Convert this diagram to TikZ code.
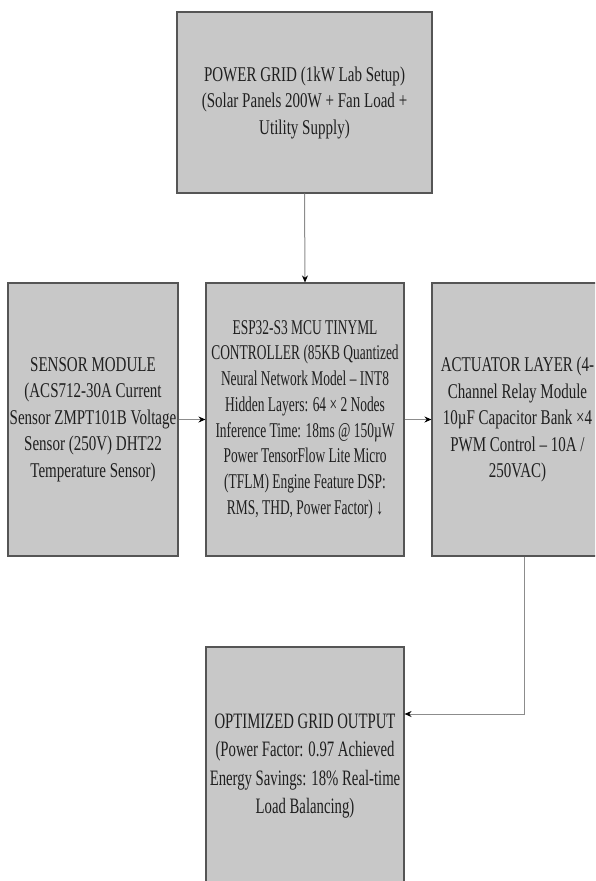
\documentclass[tikz,border=0pt]{standalone}
\usepackage{fontspec}
\setmainfont{Liberation Serif}[FakeStretch=0.715]
\newfontfamily\narrowfont{Liberation Serif}[FakeStretch=0.64]
\newfontfamily\outfont{Liberation Serif}[FakeStretch=0.67]
\usetikzlibrary{arrows.meta,calc}
\definecolor{boxfill}{HTML}{C8C8C8}
\definecolor{boxline}{HTML}{555555}
\definecolor{conn}{HTML}{8C8C8C}
\tikzset{
  block/.style={draw=boxline, line width=1.1pt, fill=boxfill, align=center,
    inner sep=0pt, font=\fontsize{21}{26.5}\selectfont, text=black!88},
  conn/.style={draw=conn, line width=1pt,
    -{Stealth[length=7pt,width=6pt,color=black]}}
}
\begin{document}
\begin{tikzpicture}[x=1pt,y=-1pt]
\useasboundingbox (0,0) rectangle (595,881);
\clip (0,0) rectangle (595,881);
\fill[white] (0,0) rectangle (595,881);

\node[block, minimum width=255pt, minimum height=181pt] (grid) at (304.5,102.5)
  {POWER GRID (1kW Lab Setup)\\(Solar Panels 200W + Fan Load +\\Utility Supply)};

\node[block, minimum width=170pt, minimum height=273pt] (sensor) at (93,419.5)
  {SENSOR MODULE\\(ACS712-30A Current\\Sensor ZMPT101B Voltage\\Sensor (250V) DHT22\\Temperature Sensor)};

\node[block, minimum width=198pt, minimum height=273pt, font=\fontsize{21}{25.7}\selectfont\narrowfont] (esp) at (305,419.5)
  {ESP32-S3 MCU TINYML\\CONTROLLER (85KB Quantized\\Neural Network Model – INT8\\Hidden Layers: 64 × 2 Nodes\\Inference Time: 18ms @ 150µW\\Power TensorFlow Lite Micro\\(TFLM) Engine Feature DSP:\\RMS, THD, Power Factor) ↓};

\node[block, minimum width=171pt, minimum height=273pt] (act) at (517.5,419.5)
  {ACTUATOR LAYER (4-\\Channel Relay Module\\10µF Capacitor Bank ×4\\PWM Control – 10A /\\250VAC)};

\node[block, minimum width=198pt, minimum height=238pt, font=\fontsize{22}{28.3}\selectfont\outfont] (out) at (305,766)
  {OPTIMIZED GRID OUTPUT\\(Power Factor: 0.97 Achieved\\Energy Savings: 18\% Real-time\\Load Balancing)};

\coordinate (turn) at (524,714);

\draw[conn] (grid.south) -- (esp.north);
\draw[conn] (sensor.east) -- (esp.west);
\draw[conn] (esp.east) -- (act.west);
\draw[conn] (act.south -| turn) -- (turn) -- (turn -| out.east);
\end{tikzpicture}
\end{document}
